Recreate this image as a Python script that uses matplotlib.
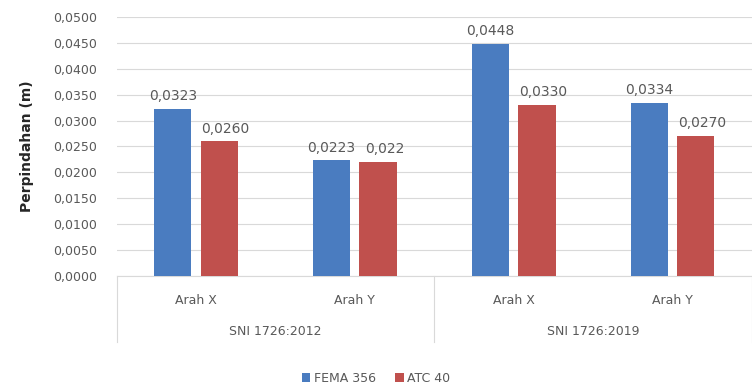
import matplotlib
matplotlib.use("Agg")
import matplotlib.pyplot as plt
import matplotlib.transforms as mtransforms
import numpy as np

directions = ["Arah X", "Arah Y", "Arah X", "Arah Y"]
standards = ["SNI 1726:2012", "SNI 1726:2019"]
fema356 = [0.0323, 0.0223, 0.0448, 0.0334]
atc40 = [0.0260, 0.0220, 0.0330, 0.0270]
fema_labels = ["0,0323", "0,0223", "0,0448", "0,0334"]
atc_labels = ["0,0260", "0,022", "0,0330", "0,0270"]
yticks = np.arange(0, 0.05001, 0.005)

blue = "#4a7cc0"
red = "#c0504d"
text_gray = "#595959"
grid_gray = "#d9d9d9"

fig = plt.figure(figsize=(7.52, 3.87), dpi=100)
ax = fig.add_axes([0.155, 0.287, 0.845, 0.669])

x = np.arange(len(directions))
w = 0.235
off = 0.146
b1 = ax.bar(x - off, fema356, w, color=blue, label="FEMA 356", zorder=3)
b2 = ax.bar(x + off, atc40, w, color=red, label="ATC 40", zorder=3)

for rect, lab in zip(b1, fema_labels):
    ax.text(rect.get_x() + rect.get_width() / 2, rect.get_height() + 0.0011, lab,
            ha="center", va="bottom", fontsize=10, color=text_gray, zorder=4)
for rect, lab in zip(b2, atc_labels):
    ax.text(rect.get_x() + rect.get_width() / 2 + 0.04, rect.get_height() + 0.0011, lab,
            ha="center", va="bottom", fontsize=10, color=text_gray, zorder=4)

ax.set_xlim(-0.5, len(directions) - 0.5)
ax.set_ylim(0, 0.05)
ax.set_yticks(yticks)
ax.set_yticklabels([f"{v:.4f}".replace(".", ",") for v in yticks])
ax.tick_params(axis="y", length=0, labelsize=9, labelcolor=text_gray, pad=14)
ax.tick_params(axis="x", length=0, labelbottom=False)
ax.grid(axis="y", color=grid_gray, linewidth=0.8, zorder=0)
for s in ["top", "right", "left"]:
    ax.spines[s].set_visible(False)
ax.spines["bottom"].set_color(grid_gray)

ax.set_ylabel("Perpindahan (m)", fontsize=10, fontweight="bold", color="#262626", labelpad=14)

# hierarchical category axis below the plot
trans = mtransforms.blended_transform_factory(ax.transData, ax.transAxes)
for xi, d in zip(x, directions):
    ax.text(xi, -0.093, d, transform=trans, ha="center", va="center",
            fontsize=9, color=text_gray)
for gi, s in enumerate(standards):
    ax.text(2 * gi + 0.5, -0.215, s, transform=trans, ha="center", va="center",
            fontsize=9, color=text_gray)
for xs in [-0.5, 1.5, 3.5]:
    ax.plot([xs, xs], [0, -0.255], transform=trans, color=grid_gray,
            linewidth=0.8, clip_on=False)

fig.legend(handles=[b1, b2], loc="center", bbox_to_anchor=(0.5, 0.023),
           ncol=2, frameon=False, fontsize=9, handlelength=0.7, handleheight=0.7,
           columnspacing=1.5, handletextpad=0.3, labelcolor=text_gray)

fig.savefig("out.png", dpi=100)
